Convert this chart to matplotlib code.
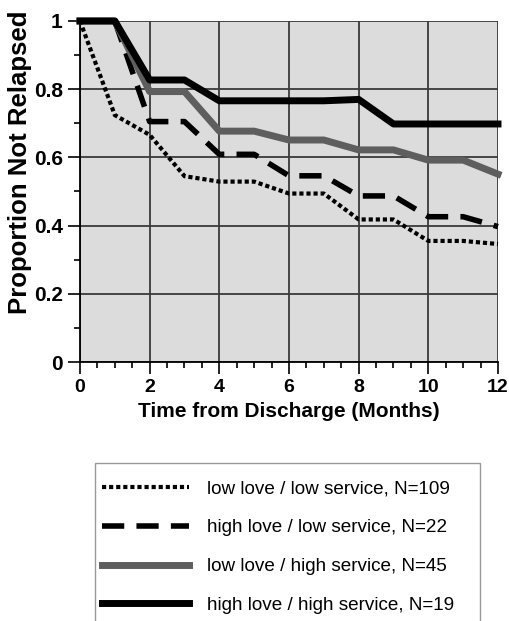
import numpy as np
import matplotlib
matplotlib.use("Agg")
from matplotlib import pyplot as plt
from matplotlib.patches import Rectangle
from matplotlib.ticker import MultipleLocator

plt.rcParams['font.family'] = ['Liberation Sans', 'DejaVu Sans']

months = [0, 1, 2, 3, 4, 5, 6, 7, 8, 9, 10, 11, 12]
low_low = [1.0, 0.724, 0.666, 0.545, 0.529, 0.529, 0.494, 0.494, 0.418, 0.418, 0.355, 0.355, 0.346]
high_low = [1.0, 1.0, 0.705, 0.705, 0.609, 0.609, 0.546, 0.546, 0.487, 0.487, 0.426, 0.426, 0.397]
low_high = [1.0, 1.0, 0.793, 0.793, 0.677, 0.677, 0.651, 0.651, 0.622, 0.622, 0.592, 0.592, 0.551]
high_high = [1.0, 1.0, 0.827, 0.827, 0.766, 0.766, 0.766, 0.766, 0.770, 0.698, 0.698, 0.698, 0.698]

labels = ["low love / low service, N=109",
          "high love / low service, N=22",
          "low love / high service, N=45",
          "high love / high service, N=19"]

fig = plt.figure(figsize=(5.1, 6.21), dpi=100)
ax = fig.add_axes([80 / 510, 1 - 362 / 621, 418 / 510, 341 / 621])
ax.set_facecolor('#dcdcdc')

l1, = ax.plot(months, low_low, color='black', lw=3, linestyle=(0, (1, 0.7)), clip_on=False, zorder=3)
l2, = ax.plot(months, high_low, color='black', lw=4, linestyle=(0, (4, 2.2)), clip_on=False, zorder=3)
l3, = ax.plot(months, low_high, color='#5e5e5e', lw=5, clip_on=False, zorder=3)
l4, = ax.plot(months, high_high, color='black', lw=5, clip_on=False, zorder=4)

ax.set_xlim(0, 12)
ax.set_ylim(0, 1)
ax.xaxis.set_major_locator(MultipleLocator(2))
ax.xaxis.set_minor_locator(MultipleLocator(0.5))
ax.yaxis.set_minor_locator(MultipleLocator(0.1))
ax.set_yticks([0, 0.2, 0.4, 0.6, 0.8, 1])
ax.set_yticklabels(['0', '0.2', '0.4', '0.6', '0.8', '1'])
ax.grid(True, which='major', color='#3a3a3a', lw=1.3)
ax.set_axisbelow(True)
for s in ['top', 'right']:
    ax.spines[s].set_visible(False)
for s in ['left', 'bottom']:
    ax.spines[s].set_linewidth(1.3)
ax.tick_params(which='major', length=8.5, width=1.2, pad=4)
ax.tick_params(which='minor', length=4, width=1.2)
ax.tick_params(axis='x', labelsize=14)
ax.tick_params(axis='y', labelsize=15)
for t in ax.get_xticklabels() + ax.get_yticklabels():
    t.set_fontweight('bold')

ax.set_xlabel('Time from Discharge (Months)', fontsize=15, fontweight='bold', labelpad=4)
ax.set_ylabel('Proportion Not Relapsed', fontsize=18.5, fontweight='bold')
ax.yaxis.set_label_coords(-0.115, 0.587)

fig.patches.append(Rectangle((95 / 510, -0.05), 385 / 510, 1 - 463 / 621 + 0.05,
                             transform=fig.transFigure, facecolor='white',
                             edgecolor='#999999', lw=1))
leg = fig.legend([l1, l2, l3, l4], labels, loc='upper left',
                 bbox_to_anchor=(85 / 510, 1 - 463 / 621), frameon=False,
                 fontsize=13.6, handlelength=4.6, handletextpad=0.95, labelspacing=1.15)

fig.savefig('out.png', dpi=100)
